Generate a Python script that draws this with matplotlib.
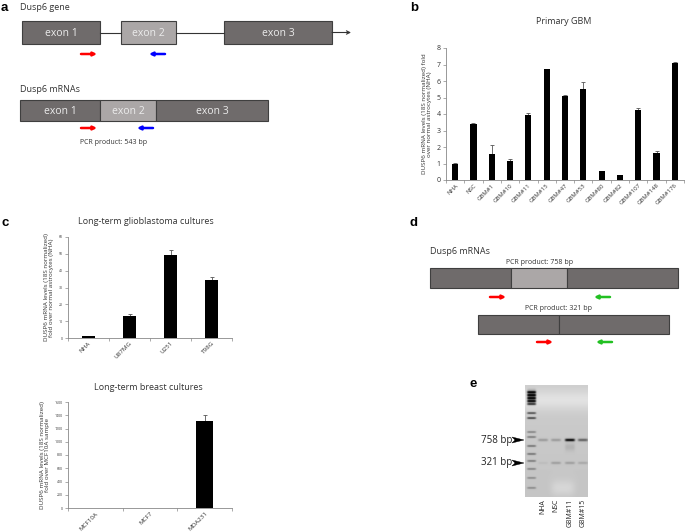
import numpy as np
import matplotlib
matplotlib.use("Agg")
import matplotlib.pyplot as plt
from matplotlib.patches import Rectangle, Polygon

plt.rcParams['font.family'] = ['Open Sans', 'DejaVu Sans']

# ---------------- data ----------------
gbm_labels = ["NHA", "NSC", "GBM#1", "GBM#10", "GBM#11", "GBM#15", "GBM#47",
              "GBM#53", "GBM#80", "GBM#82", "GBM#107", "GBM#148", "GBM#176"]
gbm_values = [1.0, 3.4, 1.6, 1.15, 3.95, 6.7, 5.1, 5.5, 0.55, 0.28, 4.25, 1.65, 7.1]
gbm_errors = [0.05, 0.05, 0.5, 0.1, 0.1, 0.05, 0.05, 0.45, 0.02, 0.02, 0.13, 0.13, 0.05]

glio_labels = ["NHA", "U87MG", "U251", "T98G"]
glio_values = [1.0, 13.2, 49.5, 34.3]
glio_errors = [0.2, 1.0, 2.8, 1.8]

breast_labels = ["MCF10A", "MCF7", "MDA231"]
breast_values = [1.0, 1.0, 1320]
breast_errors = [0, 0, 80]

gel_lanes = ["NHA", "NSC", "GBM#11", "GBM#15"]
band758 = [0.22, 0.22, 0.95, 0.5]
band321 = [0.05, 0.2, 0.2, 0.15]
ladder_pos = [392, 395, 398, 401, 404, 413, 418, 432, 437, 446, 454, 461, 469, 478, 488]
ladder_int = [0.95, 0.9, 0.85, 0.85, 0.8, 0.75, 0.8, 0.4, 0.45, 0.5, 0.5, 0.45, 0.4, 0.35, 0.35]

W, H = 685, 532
fig = plt.figure(figsize=(6.85, 5.32), dpi=100)
ax0 = fig.add_axes([0, 0, 1, 1])
ax0.set_xlim(0, W)
ax0.set_ylim(H, 0)
ax0.axis('off')

dark = '#6f6b6b'
light = '#aba7a7'
edge = '#3f3f3f'
txtc = '#ececec'


def box(x0, x1, y0, y1, fc, label=None):
    ax0.add_patch(Rectangle((x0, y0), x1 - x0, y1 - y0, fc=fc, ec=edge, lw=0.8))
    if label:
        ax0.text((x0 + x1) / 2, (y0 + y1) / 2 + 0.5, label, color=txtc, fontsize=7.5,
                 ha='center', va='center')


def arrow(x0, x1, y, color):
    ax0.annotate('', xy=(x1, y), xytext=(x0, y),
                 arrowprops=dict(arrowstyle='-|>', color=color, lw=1.8,
                                 mutation_scale=5, shrinkA=0, shrinkB=0))


def letter(x, y, s):
    ax0.text(x, y, s, fontsize=9.5, fontweight='bold', ha='left', va='center',
             family='Liberation Sans')

# ---------------- panel a ----------------
letter(1, 8, 'a')
ax0.text(20, 7, 'Dusp6 gene', fontsize=6.5, va='center', color='#333333')
ax0.plot([100, 121], [32.5, 32.5], color='#333333', lw=0.8)
ax0.plot([176, 224], [32.5, 32.5], color='#333333', lw=0.8)
ax0.annotate('', xy=(351, 32.5), xytext=(332, 32.5),
             arrowprops=dict(arrowstyle='->', color='#333333', lw=0.8,
                             mutation_scale=6, shrinkA=0, shrinkB=0))
box(22, 100.5, 21, 44, dark, 'exon 1')
box(121, 176, 21, 44, light, 'exon 2')
box(224, 332, 21, 44, dark, 'exon 3')
arrow(81, 97, 54, 'red')
arrow(165, 149, 54, 'blue')

ax0.text(20, 89, 'Dusp6 mRNAs', fontsize=6.5, va='center', color='#333333')
box(20, 100.5, 100, 121, dark, 'exon 1')
box(100.5, 156, 100, 121, light, 'exon 2')
box(156, 268, 100, 121, dark, 'exon 3')
arrow(81, 97, 128, 'red')
arrow(153, 137, 128, 'blue')
ax0.text(80, 143, 'PCR product: 543 bp', fontsize=5, va='center', color='#333333')

# ---------------- panel b ----------------
letter(410, 8, 'b')
ax0.text(564, 21, 'Primary GBM', fontsize=6.5, ha='center', va='center', color='#333333')


def bar_axes(rect_px, labels, values, errors, ylim, yticks, ylabel,
             lblsize, ticksize, width):
    l, t, r, b = rect_px
    ax = fig.add_axes([l / W, 1 - b / H, (r - l) / W, (b - t) / H])
    ax.patch.set_alpha(0)
    x = np.arange(len(labels))
    ax.bar(x, values, width=width, color='black', zorder=3)
    errs = np.array(errors)
    mask = errs > 0
    ax.errorbar(x[mask], np.array(values)[mask], yerr=[np.zeros(mask.sum()), errs[mask]],
                fmt='none', ecolor='#555555', elinewidth=0.6, capsize=1.5, capthick=0.6)
    ax.set_xlim(-0.5, len(labels) - 0.5)
    ax.set_ylim(*ylim)
    ax.set_yticks(yticks)
    ax.set_xticks(x)
    ax.set_xticklabels(labels, rotation=45, ha='right', rotation_mode='anchor',
                       fontsize=lblsize, color='#333333')
    ax.tick_params(axis='x', length=0, pad=2)
    ax.set_xticks(np.arange(len(labels) + 1) - 0.5, minor=True)
    ax.tick_params(axis='x', which='minor', length=2, width=0.5, color='#888888')
    ax.tick_params(axis='y', labelsize=ticksize, length=2, width=0.5, color='#888888',
                   labelcolor='#333333', pad=2)
    for s in ['top', 'right']:
        ax.spines[s].set_visible(False)
    for s in ['left', 'bottom']:
        ax.spines[s].set_color('#888888')
        ax.spines[s].set_linewidth(0.6)
    ax.set_ylabel(ylabel, fontsize=4.5, color='#333333', labelpad=3, linespacing=1.1)
    return ax

axb = bar_axes((446, 48, 684, 180), gbm_labels, gbm_values, gbm_errors, (0, 8),
               range(0, 9),
               'DUSP6 mRNA levels (18S normalized) fold\nover normal astrocytes (NHA)',
               4.3, 5, 0.34)

# ---------------- panel c ----------------
letter(2, 223, 'c')
ax0.text(146, 222, 'Long-term glioblastoma cultures', fontsize=6.5, ha='center',
         va='center', color='#333333')
axc1 = bar_axes((68, 237, 232, 338), glio_labels, glio_values, glio_errors, (0, 60),
                range(0, 61, 10),
                'DUSP6 mRNA levels (18S normalized)\nfold over normal astrocytes (NHA)',
                4.5, 2.5, 0.3)

ax0.text(148, 387, 'Long-term breast cultures', fontsize=6.5, ha='center',
         va='center', color='#333333')
axc2 = bar_axes((68, 402, 232, 508), breast_labels, breast_values, breast_errors,
                (0, 1600), range(0, 1601, 200),
                'DUSP6 mRNA levels (18S normalized)\nfold over MCF10A sample',
                4.5, 2.5, 0.31)

# ---------------- panel d ----------------
letter(410, 223, 'd')
ax0.text(430, 252, 'Dusp6 mRNAs', fontsize=6.5, va='center', color='#333333')
ax0.text(540, 262, 'PCR product: 758 bp', fontsize=5, ha='center', va='center',
         color='#333333')
box(430, 511, 268, 288, dark)
box(511, 567, 268, 288, light)
box(567, 678, 268, 288, dark)
arrow(490, 506, 297, 'red')
arrow(610, 594, 297, '#22c022')
ax0.text(559, 308, 'PCR product: 321 bp', fontsize=5, ha='center', va='center',
         color='#333333')
box(478, 559, 315, 334, dark)
box(559, 669, 315, 334, dark)
arrow(537, 553, 342, 'red')
arrow(612, 596, 342, '#22c022')

# ---------------- panel e ----------------
letter(470, 384, 'e')
gx0, gx1, gy0, gy1 = 525, 588, 385, 497
res = 4
ys = np.linspace(gy0, gy1, (gy1 - gy0) * res)
xs = np.linspace(gx0, gx1, (gx1 - gx0) * res)
X, Y = np.meshgrid(xs, ys)
img = 0.80 + 0.09 * np.exp(-((Y - 400) / 10) ** 2) - 0.03 * (Y - gy0) / (gy1 - gy0)
# ladder lane
lad_x = 531.5
for p, a in zip(ladder_pos, ladder_int):
    img -= a * 0.75 * np.exp(-((Y - p) / 0.9) ** 2) * np.exp(-((X - lad_x) / 4.5) ** 6)
img -= 0.45 * np.exp(-((Y - 397) / 7) ** 4) * np.exp(-((X - lad_x) / 4.5) ** 6)
lane_x = [543, 556, 570, 583]
for lx, a7, a3 in zip(lane_x, band758, band321):
    img -= a7 * 0.85 * np.exp(-((Y - 440) / 1.3) ** 2) * np.exp(-((X - lx) / 5) ** 6)
    img -= a3 * 0.85 * np.exp(-((Y - 463) / 1.2) ** 2) * np.exp(-((X - lx) / 5) ** 6)
# faint upper smear in GBM#11 lane and lower light smears
img -= 0.08 * np.exp(-((Y - 447) / 4) ** 2) * np.exp(-((X - 570) / 5) ** 6)
img += 0.07 * np.exp(-((Y - 488) / 8) ** 2) * np.exp(-((X - 563) / 12) ** 4)
img = np.clip(img, 0, 1)
ax0.imshow(img, cmap='gray', vmin=0, vmax=1, extent=(gx0, gx1, gy1, gy0),
           aspect='auto', interpolation='bilinear', zorder=1)
ax0.set_xlim(0, W)
ax0.set_ylim(H, 0)

for yy, lab in [(440, '758 bp'), (463, '321 bp')]:
    ax0.text(512, yy, lab, fontsize=7, ha='right', va='center', color='#222222')
    ax0.add_patch(Polygon([[512, yy - 3], [524, yy], [512, yy + 3], [515, yy]],
                          closed=True, fc='black', ec='black', lw=0.3))

for lx, lab in zip(lane_x, gel_lanes):
    ax0.text(lx, 499, lab, fontsize=5, rotation=90, ha='center', va='top',
             color='#222222')

fig.savefig('out.png', dpi=100)
